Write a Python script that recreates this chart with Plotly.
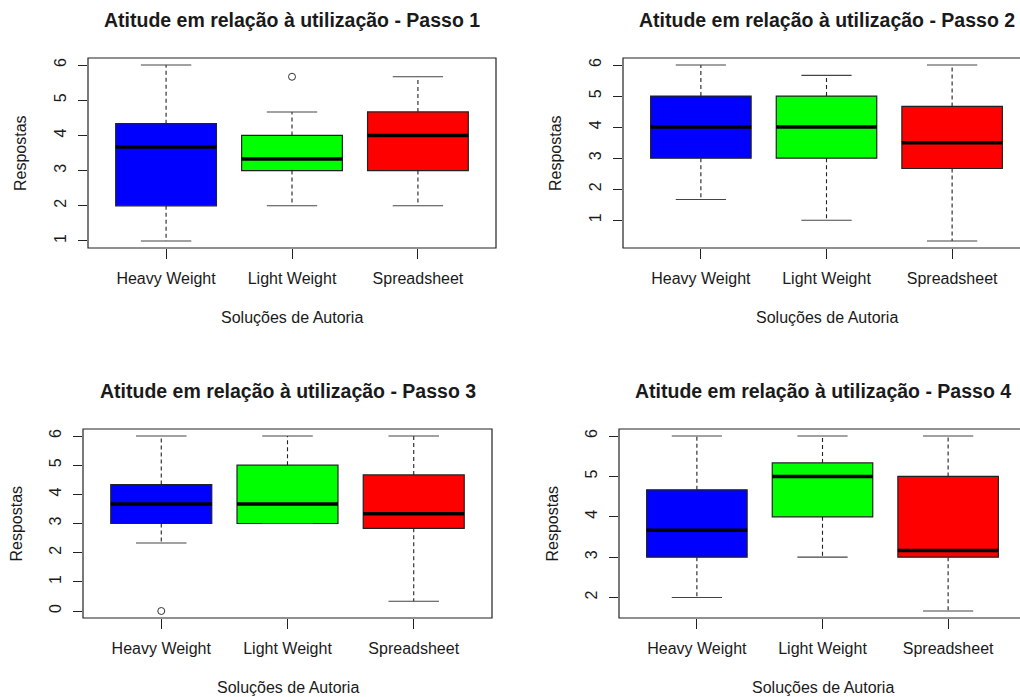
import plotly.graph_objects as go
import math

categories = ["Heavy Weight", "Light Weight", "Spreadsheet"]
colors = ["#0000FF", "#00FF00", "#FF0000"]

titles = [
    "Atitude em relação à utilização - Passo 1",
    "Atitude em relação à utilização - Passo 2",
    "Atitude em relação à utilização - Passo 3",
    "Atitude em relação à utilização - Passo 4",
]
x_title = "Soluções de Autoria"
y_title = "Respostas"

# Passo 1
p1_low = [1.0, 2.0, 2.0]
p1_q1 = [2.0, 3.0, 3.0]
p1_med = [3.667, 3.333, 4.0]
p1_q3 = [4.333, 4.0, 4.667]
p1_high = [6.0, 4.667, 5.667]
p1_out = [[], [5.667], []]

# Passo 2
p2_low = [1.667, 1.0, 0.333]
p2_q1 = [3.0, 3.0, 2.667]
p2_med = [4.0, 4.0, 3.5]
p2_q3 = [5.0, 5.0, 4.667]
p2_high = [6.0, 5.667, 6.0]
p2_out = [[], [], []]

# Passo 3
p3_low = [2.333, 3.0, 0.333]
p3_q1 = [3.0, 3.0, 2.833]
p3_med = [3.667, 3.667, 3.333]
p3_q3 = [4.333, 5.0, 4.667]
p3_high = [6.0, 6.0, 6.0]
p3_out = [[0.0], [], []]

# Passo 4
p4_low = [2.0, 3.0, 1.667]
p4_q1 = [3.0, 4.0, 3.0]
p4_med = [3.667, 5.0, 3.167]
p4_q3 = [4.667, 5.333, 5.0]
p4_high = [6.0, 6.0, 6.0]
p4_out = [[], [], []]

panels = [
    (p1_low, p1_q1, p1_med, p1_q3, p1_high, p1_out),
    (p2_low, p2_q1, p2_med, p2_q3, p2_high, p2_out),
    (p3_low, p3_q1, p3_med, p3_q3, p3_high, p3_out),
    (p4_low, p4_q1, p4_med, p4_q3, p4_high, p4_out),
]

W, H = 1020, 697
# plot regions in pixels: (left, top, right, bottom); right may exceed canvas (clipped like the original)
regions = [
    (88, 58, 496, 248),
    (623, 58, 1030, 248),
    (83, 429, 492, 618),
    (619, 429, 1026, 618),
]

FONT = "Liberation Sans, Arial, sans-serif"
TXT = "#1a1a1a"
LINE = "#222222"

fig = go.Figure()
layout = dict(
    width=W, height=H,
    margin=dict(l=0, r=0, t=0, b=0),
    paper_bgcolor="white", plot_bgcolor="white",
    showlegend=False,
    font=dict(family=FONT, color=TXT),
)
shapes = []
annotations = []

pos = [1, 2, 3]
for k, (low, q1, med, q3, high, out) in enumerate(panels):
    xa = "x" if k == 0 else f"x{k+1}"
    ya = "y" if k == 0 else f"y{k+1}"
    L, T, R, B = regions[k]
    R_vis = min(R, W)
    xr0, xr1 = 0.38, 3.62
    unit = (R - L) / (xr1 - xr0)
    xr1_vis = xr0 + (R_vis - L) / unit

    allv = low + high + [v for o in out for v in o]
    dmin, dmax = min(allv), max(allv)
    pad = 0.04 * (dmax - dmin)
    yr = [dmin - pad, dmax + pad]
    yt = [t for t in range(math.ceil(yr[0]), math.floor(yr[1]) + 1)]

    for i in range(3):
        p = pos[i]
        # whiskers (dashed)
        fig.add_trace(go.Scatter(
            x=[p, p, None, p, p], y=[q3[i], high[i], None, q1[i], low[i]],
            mode="lines", line=dict(color=LINE, width=1.1, dash="4px,3px"),
            xaxis=xa, yaxis=ya, hoverinfo="skip"))
        # box
        fig.add_trace(go.Box(
            x=[p], q1=[q1[i]], median=[med[i]], q3=[q3[i]],
            lowerfence=[q1[i]], upperfence=[q3[i]],
            fillcolor=colors[i], line=dict(color=LINE, width=1.2),
            width=0.8, whiskerwidth=0, boxpoints=False,
            xaxis=xa, yaxis=ya, name=categories[i]))
        # median (thick)
        fig.add_trace(go.Scatter(
            x=[p - 0.4, p + 0.4], y=[med[i], med[i]], mode="lines",
            line=dict(color="black", width=3.5), xaxis=xa, yaxis=ya, hoverinfo="skip"))
        # staples
        fig.add_trace(go.Scatter(
            x=[p - 0.2, p + 0.2, None, p - 0.2, p + 0.2],
            y=[high[i], high[i], None, low[i], low[i]], mode="lines",
            line=dict(color="#444444", width=1.1), xaxis=xa, yaxis=ya, hoverinfo="skip"))
        if out[i]:
            fig.add_trace(go.Scatter(
                x=[p] * len(out[i]), y=out[i], mode="markers",
                marker=dict(symbol="circle-open", size=7, color="#333333", line=dict(width=1)),
                xaxis=xa, yaxis=ya, hoverinfo="skip"))

    key = "" if k == 0 else str(k + 1)
    layout["xaxis" + key] = dict(
        domain=[L / W, R_vis / W], range=[xr0, xr1_vis], anchor=ya,
        tickvals=pos, ticktext=categories, ticks="outside", ticklen=10,
        tickcolor=LINE, tickwidth=1, showgrid=False, zeroline=False, showline=False,
        tickfont=dict(size=16, color=TXT, family=FONT), ticklabelstandoff=6,
        fixedrange=True)
    layout["yaxis" + key] = dict(
        domain=[1 - B / H, 1 - T / H], range=yr, anchor=xa,
        tickvals=yt, ticks="outside", ticklen=9, tickcolor=LINE, tickwidth=1,
        tickangle=-90, showgrid=False, zeroline=False, showline=False,
        tickfont=dict(size=16, color=TXT, family=FONT), ticklabelstandoff=6,
        fixedrange=True)

    # frame
    shapes.append(dict(type="rect", xref="paper", yref="paper",
                       x0=L / W, x1=R / W, y0=1 - B / H, y1=1 - T / H,
                       line=dict(color=LINE, width=1.2), layer="above"))
    cx = (L + R) / 2
    annotations.append(dict(text="<b>" + titles[k] + "</b>", xref="paper", yref="paper",
                            x=cx / W, y=1 - (T - 38) / H, showarrow=False,
                            font=dict(size=19.5, color=TXT, family=FONT),
                            xanchor="center", yanchor="middle"))
    annotations.append(dict(text=x_title, xref="paper", yref="paper",
                            x=cx / W, y=1 - (B + 69) / H, showarrow=False,
                            font=dict(size=16, color=TXT, family=FONT),
                            xanchor="center", yanchor="middle"))
    annotations.append(dict(text=y_title, xref="paper", yref="paper",
                            x=(L - 67) / W, y=1 - ((T + B) / 2) / H, showarrow=False,
                            textangle=-90,
                            font=dict(size=16, color=TXT, family=FONT),
                            xanchor="center", yanchor="middle"))

layout["shapes"] = shapes
layout["annotations"] = annotations
fig.update_layout(**layout)
fig.write_html("out.html", config={"displayModeBar": False},
               post_script="document.body.style.margin='0';document.body.style.overflow='hidden';")
